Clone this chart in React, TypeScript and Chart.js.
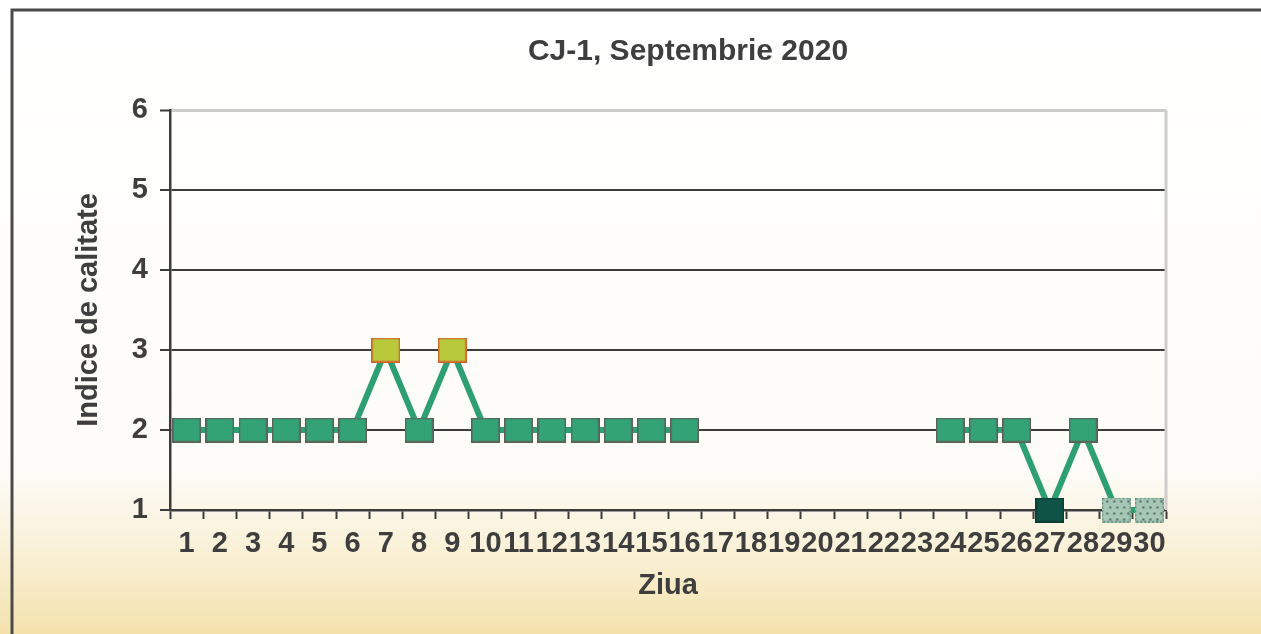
import React, { useEffect, useRef } from 'react';
import { Chart, registerables } from 'chart.js';

Chart.register(...registerables);

// ---- data ----
const days: string[] = [
  '1', '2', '3', '4', '5', '6', '7', '8', '9', '10',
  '11', '12', '13', '14', '15', '16', '17', '18', '19', '20',
  '21', '22', '23', '24', '25', '26', '27', '28', '29', '30',
];
const qualityIndex: (number | null)[] = [
  2, 2, 2, 2, 2, 2, 3, 2, 3, 2,
  2, 2, 2, 2, 2, 2, null, null, null, null,
  null, null, null, 2, 2, 2, 1, 2, 1, 1,
];
const yTickValues: number[] = [1, 2, 3, 4, 5, 6];
const fadedPrintDays: string[] = ['29', '30'];
const chartTitle = 'CJ-1, Septembrie 2020';
const yAxisTitle = 'Indice de calitate';
const xAxisTitle = 'Ziua';

const FONT = "'Liberation Sans', Arial, sans-serif";
const TEXT = '#3e3e3e';
const GRID = '#3c3c3c';
const LIGHT = '#cdcdcd';

function makeMarker(fill: string, stroke: string, speckle = false): HTMLCanvasElement {
  const w = 29;
  const h = 25;
  const c = document.createElement('canvas');
  c.width = w;
  c.height = h;
  const g = c.getContext('2d') as CanvasRenderingContext2D;
  g.fillStyle = fill;
  g.fillRect(0, 0, w, h);
  if (speckle) {
    g.fillStyle = '#3f6f5c';
    for (let yy = 3; yy < h - 2; yy += 6) {
      for (let xx = 3 + ((yy / 6) % 2) * 3; xx < w - 2; xx += 7) {
        g.fillRect(xx, yy, 2, 2);
      }
    }
  }
  g.strokeStyle = stroke;
  g.lineWidth = 1.5;
  if (speckle) g.setLineDash([2, 2]);
  g.strokeRect(0.75, 0.75, w - 1.5, h - 1.5);
  return c;
}

const bgPlugin = {
  id: 'bgFrame',
  beforeDraw(chart: any) {
    const { ctx, width, height } = chart;
    ctx.save();
    const grad = ctx.createLinearGradient(0, 0, 0, height);
    grad.addColorStop(0, '#ffffff');
    grad.addColorStop(0.74, '#fdfcf8');
    grad.addColorStop(0.87, '#f9f0d6');
    grad.addColorStop(1, '#f4e2ac');
    ctx.fillStyle = grad;
    ctx.fillRect(0, 0, width, height);
    ctx.strokeStyle = '#4a4a4a';
    ctx.lineWidth = 3;
    ctx.beginPath();
    ctx.moveTo(12, height);
    ctx.lineTo(12, 10);
    ctx.lineTo(width, 10);
    ctx.stroke();
    ctx.restore();
  },
  beforeDatasetsDraw(chart: any) {
    const { ctx, chartArea } = chart;
    ctx.save();
    ctx.strokeStyle = LIGHT;
    ctx.lineWidth = 3;
    ctx.beginPath();
    ctx.moveTo(chartArea.right, chartArea.top);
    ctx.lineTo(chartArea.right, chartArea.bottom);
    ctx.stroke();
    ctx.restore();
  },
  afterDraw(chart: any) {
    const { ctx, chartArea } = chart;
    ctx.save();
    ctx.font = `bold 30px ${FONT}`;
    ctx.fillStyle = TEXT;
    ctx.textAlign = 'center';
    ctx.textBaseline = 'middle';
    ctx.fillText(chartTitle, (chartArea.left + chartArea.right) / 2 + 20, 52);
    ctx.restore();
  },
};

export default function App() {
  const ref = useRef<HTMLCanvasElement | null>(null);

  useEffect(() => {
    if (!ref.current) return;
    const markers: Record<string, HTMLCanvasElement> = {
      '3': makeMarker('#b9c93c', '#d2602c'),
      '2': makeMarker('#33a275', '#5e5e56'),
      '1': makeMarker('#0f5246', '#0a3d34'),
      faded: makeMarker('#a8c6b6', '#5f8c78', true),
    };
    const chart = new Chart(ref.current, {
      type: 'line',
      data: {
        labels: days,
        datasets: [
          {
            data: qualityIndex,
            borderColor: '#2e9f72',
            borderWidth: 6,
            spanGaps: false,
            clip: false as any,
            pointStyle: (ctx: any) => {
              const lbl = days[ctx.dataIndex];
              if (fadedPrintDays.includes(lbl)) return markers.faded;
              const v = ctx.raw;
              return markers[String(v)] || markers['2'];
            },
            pointRadius: 14,
            pointHoverRadius: 14,
          } as any,
        ],
      },
      plugins: [bgPlugin],
      options: {
        animation: false,
        responsive: false,
        events: [],
        layout: { padding: { left: 0, top: 110, right: 95, bottom: 0 } },
        plugins: {
          legend: { display: false },
          title: { display: false },
          tooltip: { enabled: false },
        },
        scales: {
          x: {
            offset: true,
            afterFit: (s: any) => {
              s.height = 124;
            },
            grid: {
              offset: true,
              drawOnChartArea: false,
              drawTicks: true,
              tickLength: 9,
              tickColor: GRID,
              tickWidth: 2,
            },
            border: { display: true, color: GRID, width: 2.5 },
            ticks: {
              autoSkip: false,
              maxRotation: 0,
              minRotation: 0,
              padding: 8,
              color: TEXT,
              font: { family: FONT, size: 29, weight: 'bold' },
            },
            title: {
              display: true,
              text: xAxisTitle,
              color: TEXT,
              font: { family: FONT, size: 29, weight: 'bold' },
              padding: { top: 0, bottom: 31 },
            },
          },
          y: {
            min: 1,
            max: 6,
            afterFit: (s: any) => {
              s.width = 170;
            },
            afterBuildTicks: (s: any) => {
              s.ticks = yTickValues.map((v) => ({ value: v }));
            },
            grid: {
              color: (ctx: any) => (ctx.tick && ctx.tick.value === 6 ? LIGHT : GRID),
              lineWidth: (ctx: any) => (ctx.tick && ctx.tick.value === 6 ? 3 : 2),
              tickColor: GRID,
              tickLength: 10,
              tickWidth: 2,
            },
            border: { display: true, color: GRID, width: 2.5 },
            ticks: {
              stepSize: 1,
              padding: 12,
              color: TEXT,
              font: { family: FONT, size: 29, weight: 'bold' },
            },
            title: {
              display: true,
              text: yAxisTitle,
              color: TEXT,
              font: { family: FONT, size: 29, weight: 'bold' },
              padding: { top: 72, bottom: 0 },
            },
          },
        },
      },
    });
    return () => chart.destroy();
  }, []);

  return (
    <div style={{ position: 'absolute', left: 0, top: 0, width: 1261, height: 634 }}>
      <canvas ref={ref} width={1261} height={634} />
    </div>
  );
}
